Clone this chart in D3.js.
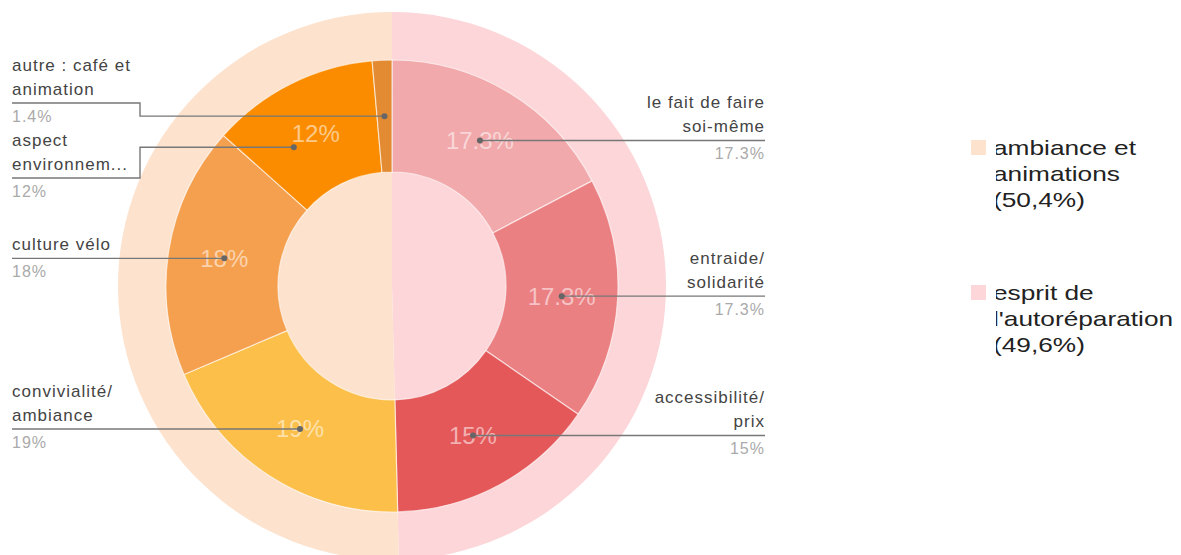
<!DOCTYPE html>
<html lang="fr">
<head>
    <meta charset="UTF-8">
    <script src="https://d3js.org/d3.v7.min.js"></script>
    <title>Sunburst</title>
    <style>
        body { margin: 0; background: #fff; }
        svg { font-family: "Liberation Sans", Arial, sans-serif; display: block; }
        .nom { font-size: 17px; fill: #444; letter-spacing: 1px; }
        .pct { font-size: 16px; fill: #aaa; letter-spacing: 1px; }
        .interne { font-size: 24px; fill: #fff; fill-opacity: 0.55; }
        .leader { fill: none; stroke: #777; stroke-width: 1.4; }
        .legende { font-size: 21px; fill: #222; }
    </style>
</head>
<body>
<div id="chart"></div>
<script>
    // Données
    const groupes = ["esprit de l'autoréparation", "ambiance et animations"];
    const valeursGroupes = [49.6, 50.4];
    const couleursGroupes = ["#fcd6d8", "#fde2ce"];

    const libelles = [
        ["le fait de faire", "soi-même"],
        ["entraide/", "solidarité"],
        ["accessibilité/", "prix"],
        ["convivialité/", "ambiance"],
        ["culture vélo"],
        ["aspect", "environnem..."],
        ["autre : café et", "animation"]
    ];
    const valeurs = [17.3, 17.3, 15, 19, 18, 12, 1.4];
    const textesPct = ["17.3%", "17.3%", "15%", "19%", "18%", "12%", "1.4%"];
    const couleurs = ["#f1a9ab", "#eb8083", "#e4585a", "#fcbf4a", "#f5a04f", "#fb8c00", "#e38b33"];

    const legendeTextes = [
        ["ambiance et", "animations", "(50,4%)"],
        ["esprit de", "l'autoréparation", "(49,6%)"]
    ];
    const legendeCouleurs = ["#fde2ce", "#fcd6d8"];

    // Mise en page
    const width = 1181, height = 555;
    const cx = 392, cy = 286;
    const rExt = 274, rAnneau = 226, rTrou = 114;
    const rMilieu = (rAnneau + rTrou) / 2;
    const ancrage = [0.5, 0.5, 0.5, 0.5, 0.5, 0.3, 0.5];   // position du point dans la part
    const ligneCoudee = [null, null, null, null, null, 178, 103]; // y de la ligne d'étiquette si coude
    const xGauche = 12, xDroite = 765, xCoude = 140;

    const svg = d3.select("#chart").append("svg")
        .attr("width", width).attr("height", height);

    const g = svg.append("g").attr("transform", `translate(${cx},${cy})`);

    // Camembert extérieur (visible aussi au centre)
    const pieGroupes = d3.pie().sort(null).value(d => d)(valeursGroupes);
    const arcExt = d3.arc().innerRadius(0).outerRadius(rExt);
    g.selectAll(".groupe")
        .data(pieGroupes)
        .join("path")
        .attr("class", "groupe")
        .attr("d", arcExt)
        .attr("fill", (d, i) => couleursGroupes[i]);

    // Anneau intérieur
    const pieInt = d3.pie().sort(null).value(d => d)(valeurs);
    const arcInt = d3.arc().innerRadius(rTrou).outerRadius(rAnneau);
    g.selectAll(".part")
        .data(pieInt)
        .join("path")
        .attr("class", "part")
        .attr("d", arcInt)
        .attr("fill", (d, i) => couleurs[i])
        .attr("stroke", "#fff")
        .attr("stroke-opacity", 0.6)
        .attr("stroke-width", 1.2);

    // Textes internes
    const arcMilieu = d3.arc().innerRadius(rMilieu).outerRadius(rMilieu);
    g.selectAll(".interne")
        .data(pieInt.filter(d => d.value >= 5))
        .join("text")
        .attr("class", "interne")
        .attr("text-anchor", "middle")
        .attr("x", d => arcMilieu.centroid(d)[0])
        .attr("y", d => arcMilieu.centroid(d)[1])
        .attr("dy", "0.35em")
        .text(d => textesPct[d.index]);

    // Lignes de rappel et étiquettes
    pieInt.forEach((d, i) => {
        const a = d.startAngle + (d.endAngle - d.startAngle) * ancrage[i];
        const px = cx + rMilieu * Math.sin(a);
        const py = cy - rMilieu * Math.cos(a);
        const droite = (d.startAngle + d.endAngle) / 2 < Math.PI;
        const yLigne = ligneCoudee[i] != null ? ligneCoudee[i] : py;

        const path = d3.path();
        if (droite) {
            path.moveTo(xDroite, yLigne);
            path.lineTo(px, py);
        } else if (ligneCoudee[i] != null) {
            path.moveTo(xGauche, yLigne);
            path.lineTo(xCoude, yLigne);
            path.lineTo(xCoude, py);
            path.lineTo(px, py);
        } else {
            path.moveTo(xGauche, yLigne);
            path.lineTo(px, py);
        }
        svg.append("path").attr("class", "leader").attr("d", path.toString());
        svg.append("circle").attr("cx", px).attr("cy", py).attr("r", 3).attr("fill", "#666");

        const x = droite ? xDroite : xGauche;
        const anchor = droite ? "end" : "start";
        const lignes = libelles[i];
        lignes.forEach((t, k) => {
            svg.append("text")
                .attr("class", "nom")
                .attr("x", x)
                .attr("y", yLigne - 8 - (lignes.length - 1 - k) * 24)
                .attr("text-anchor", anchor)
                .text(t);
        });
        svg.append("text")
            .attr("class", "pct")
            .attr("x", x)
            .attr("y", yLigne + 19)
            .attr("text-anchor", anchor)
            .text(textesPct[i]);
    });

    // Légende
    svg.append("clipPath").attr("id", "clipLegende")
        .append("rect").attr("x", 996).attr("y", 0).attr("width", 200).attr("height", height);

    const yLegende = [140, 285];
    legendeTextes.forEach((lignes, i) => {
        svg.append("rect")
            .attr("x", 971).attr("y", yLegende[i])
            .attr("width", 15).attr("height", 15)
            .attr("fill", legendeCouleurs[i]);
        const gt = svg.append("g").attr("clip-path", "url(#clipLegende)");
        lignes.forEach((t, k) => {
            gt.append("g")
                .attr("transform", `translate(993,${yLegende[i] + 15 + k * 26}) scale(1.25,1)`)
                .append("text")
                .attr("class", "legende")
                .text(t);
        });
    });
</script>
</body>
</html>
